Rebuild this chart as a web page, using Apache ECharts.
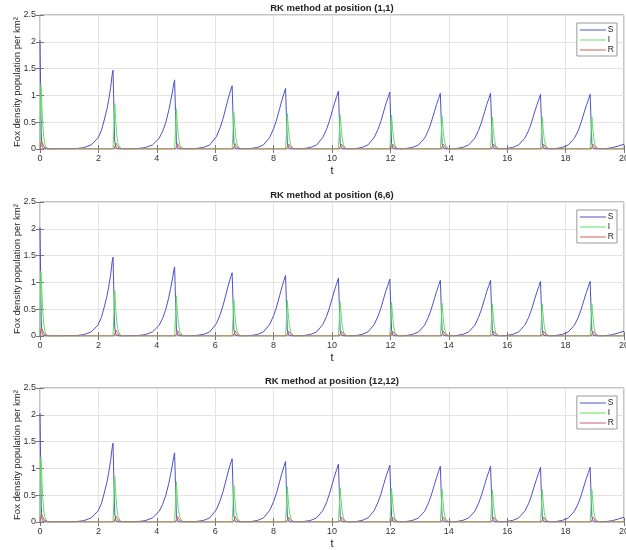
<!DOCTYPE html>
<html>
<head>
<meta charset="utf-8">
<script src="https://cdn.jsdelivr.net/npm/echarts@6/dist/echarts.min.js"></script>
<style>
    html, body {margin: 0; padding: 0; background: #fff;}
    #chart {width: 626px; height: 550px;}
</style>
</head>
<body>
<div id="chart"></div>
<script>
// 时间轴和刻度
var xTicks = [0, 20, 2];
var yTicks = [0, 2.5, 0.5];
var positions = ['(1,1)', '(6,6)', '(12,12)'];
var seriesNames = ['S', 'I', 'R'];

// S 曲线 [t, 值]
var sData = [
    [0, 2.03], [0.02, 1.2], [0.04, 0.3], [0.07, 0.05], [0.12, 0.01], [0.2, 0],
    [1.2, 0.005], [1.5, 0.025], [1.75, 0.075], [1.98, 0.2], [2.1, 0.34], [2.2, 0.54], [2.3, 0.76], [2.35, 0.91], [2.42, 1.15], [2.47, 1.38], [2.5, 1.47], [2.53, 0.8], [2.56, 0.15], [2.6, 0.02], [2.7, 0],
    [3.3, 0.005], [3.6, 0.025], [3.85, 0.075], [4.08, 0.2], [4.2, 0.33], [4.31, 0.5], [4.41, 0.72], [4.47, 0.88], [4.54, 1.08], [4.58, 1.22], [4.61, 1.29], [4.64, 0.7], [4.67, 0.13], [4.71, 0.02], [4.8, 0],
    [5.3, 0.005], [5.6, 0.03], [5.81, 0.075], [6.04, 0.23], [6.17, 0.4], [6.27, 0.57], [6.38, 0.8], [6.45, 0.95], [6.52, 1.08], [6.58, 1.18], [6.61, 0.65], [6.64, 0.12], [6.68, 0.02], [6.77, 0],
    [7.2, 0.005], [7.45, 0.03], [7.65, 0.075], [7.87, 0.22], [8.0, 0.38], [8.1, 0.54], [8.21, 0.76], [8.28, 0.9], [8.35, 1.03], [8.41, 1.13], [8.44, 0.6], [8.47, 0.11], [8.51, 0.02], [8.6, 0],
    [9.0, 0.005], [9.27, 0.03], [9.47, 0.075], [9.68, 0.21], [9.81, 0.36], [9.91, 0.52], [10.02, 0.73], [10.09, 0.86], [10.16, 0.98], [10.22, 1.08], [10.25, 0.58], [10.28, 0.1], [10.32, 0.02], [10.41, 0],
    [10.8, 0.005], [11.03, 0.03], [11.23, 0.075], [11.44, 0.21], [11.57, 0.36], [11.67, 0.51], [11.78, 0.72], [11.85, 0.85], [11.92, 0.96], [11.98, 1.06], [12.01, 0.57], [12.04, 0.1], [12.08, 0.02], [12.17, 0],
    [12.5, 0.005], [12.76, 0.03], [12.96, 0.075], [13.17, 0.2], [13.3, 0.35], [13.4, 0.5], [13.51, 0.7], [13.58, 0.83], [13.65, 0.94], [13.71, 1.04], [13.74, 0.56], [13.77, 0.1], [13.81, 0.02], [13.9, 0],
    [14.22, 0.005], [14.48, 0.03], [14.68, 0.075], [14.89, 0.2], [15.02, 0.35], [15.12, 0.5], [15.23, 0.7], [15.3, 0.83], [15.37, 0.94], [15.43, 1.04], [15.46, 0.56], [15.49, 0.1], [15.53, 0.02], [15.62, 0],
    [15.93, 0.005], [16.19, 0.03], [16.39, 0.075], [16.6, 0.2], [16.73, 0.34], [16.83, 0.49], [16.94, 0.69], [17.01, 0.81], [17.08, 0.92], [17.14, 1.02], [17.17, 0.55], [17.2, 0.1], [17.24, 0.02], [17.33, 0],
    [17.63, 0.005], [17.89, 0.03], [18.09, 0.075], [18.3, 0.2], [18.43, 0.34], [18.53, 0.49], [18.64, 0.69], [18.71, 0.81], [18.78, 0.92], [18.84, 1.02], [18.87, 0.55], [18.9, 0.1], [18.94, 0.02], [19.03, 0],
    [19.35, 0.005], [19.6, 0.025], [19.8, 0.055], [20, 0.09]
];

// I 曲线
var iData = [
    [0, 0], [0.01, 0.6], [0.03, 1.2], [0.05, 1.0], [0.09, 0.48], [0.13, 0.22], [0.17, 0.08], [0.22, 0.02], [0.3, 0],
    [2.5, 0], [2.53, 0.38], [2.56, 0.85], [2.59, 0.55], [2.63, 0.26], [2.68, 0.09], [2.75, 0.02], [2.85, 0],
    [4.61, 0], [4.64, 0.34], [4.67, 0.75], [4.7, 0.49], [4.74, 0.23], [4.79, 0.08], [4.86, 0.02], [4.96, 0],
    [6.58, 0], [6.61, 0.31], [6.64, 0.68], [6.67, 0.44], [6.71, 0.2], [6.76, 0.07], [6.83, 0.015], [6.93, 0],
    [8.41, 0], [8.44, 0.3], [8.47, 0.66], [8.5, 0.43], [8.54, 0.2], [8.59, 0.07], [8.66, 0.015], [8.76, 0],
    [10.22, 0], [10.25, 0.29], [10.28, 0.64], [10.31, 0.42], [10.35, 0.19], [10.4, 0.065], [10.47, 0.015], [10.57, 0],
    [11.98, 0], [12.01, 0.28], [12.04, 0.625], [12.07, 0.41], [12.11, 0.19], [12.16, 0.06], [12.23, 0.015], [12.33, 0],
    [13.71, 0], [13.74, 0.27], [13.77, 0.61], [13.8, 0.4], [13.84, 0.18], [13.89, 0.06], [13.96, 0.015], [14.06, 0],
    [15.43, 0], [15.46, 0.27], [15.49, 0.6], [15.52, 0.39], [15.56, 0.18], [15.61, 0.06], [15.68, 0.015], [15.78, 0],
    [17.14, 0], [17.17, 0.27], [17.2, 0.6], [17.23, 0.39], [17.27, 0.18], [17.32, 0.06], [17.39, 0.015], [17.49, 0],
    [18.84, 0], [18.87, 0.27], [18.9, 0.6], [18.93, 0.39], [18.97, 0.18], [19.02, 0.06], [19.09, 0.015], [19.19, 0],
    [20, 0]
];

// R 曲线
var rData = [
    [0, 0], [0.02, 0.08], [0.05, 0.15], [0.09, 0.1], [0.14, 0.04], [0.2, 0.01], [0.28, 0],
    [2.53, 0], [2.57, 0.06], [2.6, 0.11], [2.64, 0.07], [2.7, 0.02], [2.8, 0],
    [4.64, 0], [4.68, 0.05], [4.71, 0.1], [4.75, 0.06], [4.81, 0.02], [4.91, 0],
    [6.61, 0], [6.65, 0.05], [6.68, 0.1], [6.72, 0.06], [6.78, 0.02], [6.88, 0],
    [8.44, 0], [8.48, 0.05], [8.51, 0.09], [8.55, 0.055], [8.61, 0.02], [8.71, 0],
    [10.25, 0], [10.29, 0.05], [10.32, 0.09], [10.36, 0.055], [10.42, 0.02], [10.52, 0],
    [12.01, 0], [12.05, 0.05], [12.08, 0.09], [12.12, 0.055], [12.18, 0.02], [12.28, 0],
    [13.74, 0], [13.78, 0.05], [13.81, 0.09], [13.85, 0.055], [13.91, 0.02], [14.01, 0],
    [15.46, 0], [15.5, 0.05], [15.53, 0.09], [15.57, 0.055], [15.63, 0.02], [15.73, 0],
    [17.17, 0], [17.21, 0.05], [17.24, 0.09], [17.28, 0.055], [17.34, 0.02], [17.44, 0],
    [18.87, 0], [18.91, 0.05], [18.94, 0.09], [18.98, 0.055], [19.04, 0.02], [19.14, 0],
    [20, 0]
];

var colors = ['#5050c8', '#5fe05f', '#d45a5a'];
var tops = [15, 202, 388];
var plotH = 134;
var fontFamily = 'Liberation Sans, Arial, sans-serif';

var grids = [], xAxes = [], yAxes = [], series = [], titles = [], legends = [];

tops.forEach(function (top, k) {
    grids.push({
        left: 40, right: 2, top: top, height: plotH, show: true,
        borderColor: '#8a8a8a', borderWidth: 1,
        outerBoundsMode: 'none', containLabel: false
    });
    titles.push({
        text: 'RK method at position ' + positions[k],
        left: 332, top: top - 12, textAlign: 'center', padding: 0,
        textStyle: {fontSize: 9.5, fontWeight: 'bold', color: '#222', fontFamily: fontFamily}
    });
    // 底部x轴
    xAxes.push({
        type: 'value', gridIndex: k, min: xTicks[0], max: xTicks[1], interval: xTicks[2],
        name: 't', nameLocation: 'middle', nameGap: 16, nameMoveOverlap: false,
        nameTextStyle: {fontSize: 11, color: '#222', fontFamily: fontFamily},
        axisLine: {show: false},
        axisTick: {show: true, inside: true, length: 4, lineStyle: {color: '#777'}},
        axisLabel: {fontSize: 9, color: '#333', margin: 5, fontFamily: fontFamily},
        splitLine: {show: true, lineStyle: {color: '#e3e3e3', width: 1}}
    });
    // 顶部刻度
    xAxes.push({
        type: 'value', gridIndex: k, position: 'top', min: xTicks[0], max: xTicks[1], interval: xTicks[2],
        axisLine: {show: false}, axisLabel: {show: false}, splitLine: {show: false},
        axisTick: {show: true, inside: true, length: 4, lineStyle: {color: '#777'}}
    });
    yAxes.push({
        type: 'value', gridIndex: k, min: yTicks[0], max: yTicks[1], interval: yTicks[2],
        name: 'Fox density population per km²', nameLocation: 'middle', nameGap: 18, nameMoveOverlap: false,
        nameTextStyle: {fontSize: 9.5, color: '#222', fontFamily: fontFamily},
        axisLine: {show: false},
        axisTick: {show: true, inside: true, length: 4, lineStyle: {color: '#777'}},
        axisLabel: {fontSize: 9, color: '#333', margin: 4, fontFamily: fontFamily},
        splitLine: {show: true, lineStyle: {color: '#e3e3e3', width: 1}}
    });
    yAxes.push({
        type: 'value', gridIndex: k, position: 'right', min: yTicks[0], max: yTicks[1], interval: yTicks[2],
        axisLine: {show: false}, axisLabel: {show: false}, splitLine: {show: false},
        axisTick: {show: true, inside: true, length: 4, lineStyle: {color: '#777'}}
    });
    // 按 S、I、R 顺序叠加，R 在最上层
    [sData, iData, rData].forEach(function (d, j) {
        series.push({
            name: seriesNames[j], type: 'line', xAxisIndex: k * 2, yAxisIndex: k * 2,
            data: d, showSymbol: false, symbol: 'none', smooth: false,
            lineStyle: {color: colors[j], width: 1},
            itemStyle: {color: colors[j]},
            z: 2 + j
        });
    });
    legends.push({
        orient: 'vertical', right: 9, top: top + 8,
        data: seriesNames.map(function (n, j) {
            return {name: n, itemStyle: {color: colors[j]}};
        }),
        icon: 'rect', itemWidth: 26, itemHeight: 1, itemGap: 0,
        backgroundColor: '#fff', borderColor: '#999', borderWidth: 1, borderRadius: 0,
        padding: [2, 3, 1, 3],
        textStyle: {fontSize: 8.5, lineHeight: 10, color: '#222', fontFamily: fontFamily, padding: [0, 0, 0, -3]},
        selectedMode: false
    });
});

var option = {
    animation: false,
    title: titles,
    legend: legends,
    grid: grids,
    xAxis: xAxes,
    yAxis: yAxes,
    series: series
};

var chart = echarts.init(document.getElementById('chart'));
chart.setOption(option);
</script>
</body>
</html>
